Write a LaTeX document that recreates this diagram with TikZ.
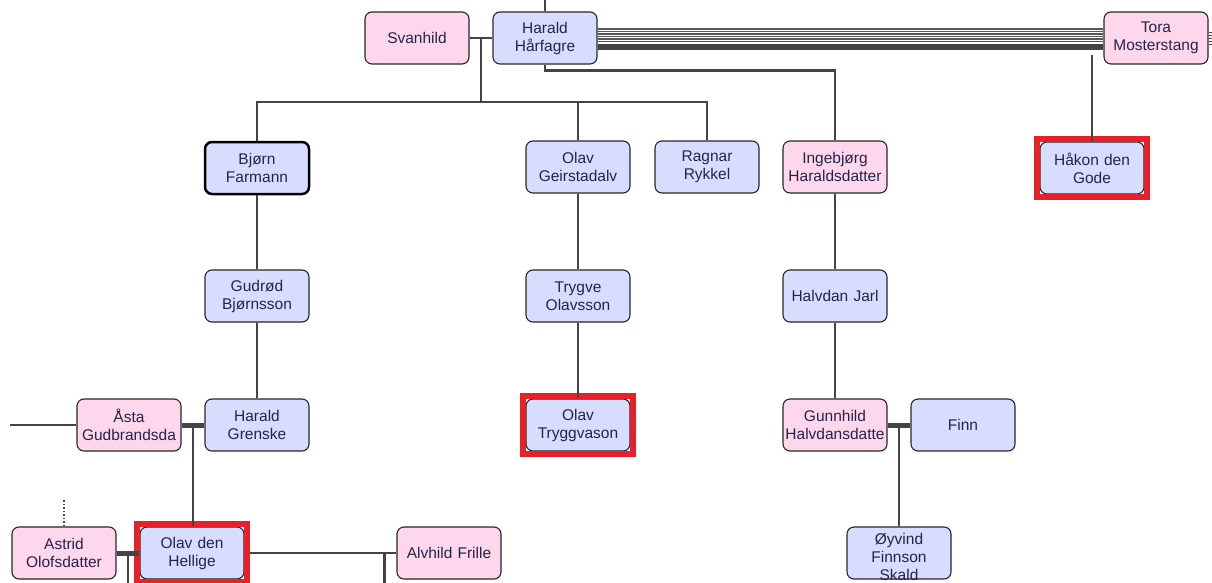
\documentclass[tikz,border=0pt]{standalone}
\usepackage{fontspec}
\setmainfont{Liberation Sans}
\usepackage{xcolor}
\usetikzlibrary{calc,fit}
\definecolor{manblue}{HTML}{D7DDFF}
\definecolor{womanpink}{HTML}{FFD7EC}
\definecolor{markred}{HTML}{E8202A}
\definecolor{linegray}{HTML}{444444}
\definecolor{nametext}{HTML}{24244A}

\begin{document}
\begin{tikzpicture}[x=1pt,y=-1pt,
   person/.style={draw=black!85,line width=1.1pt,rounded corners=7pt,minimum width=104pt,minimum height=52pt,
      text width=100pt,inner sep=1pt,align=center,text=nametext,font=\fontsize{15.5}{18}\selectfont},
   man/.style={person,fill=manblue},
   woman/.style={person,fill=womanpink},
   marked/.style={draw=markred,line width=6pt,inner sep=2.5pt},
   link/.style={draw=linegray,line width=2.3pt},
   wed/.style={draw=linegray,line width=5pt}]
   \useasboundingbox (0,0) rectangle (1212,583);
   % generation 1
   \node[woman] (svanhild) at (417,38) {Svanhild};
   \node[man] (haraldh) at (545,38) {Harald\\Hårfagre};
   \node[woman] (tora) at (1156,38) {Tora\\Mosterstang};
   % generation 2
   \node[man,line width=2.5pt,draw=black] (bjorn) at (257,168) {Bjørn\\Farmann};
   \node[man] (olavg) at (578,167) {Olav\\Geirstadalv};
   \node[man] (ragnar) at (707,167) {Ragnar\\Rykkel};
   \node[woman] (ingebjorg) at (835,167) {Ingebjørg\\Haraldsdatter};
   \node[man] (hakon) at (1092,168) {Håkon den\\Gode};
   % generation 3
   \node[man] (gudrod) at (257,296) {Gudrød\\Bjørnsson};
   \node[man] (trygve) at (578,296) {Trygve\\Olavsson};
   \node[man] (halvdan) at (835,296) {Halvdan Jarl};
   % generation 4
   \node[woman] (asta) at (129,425) {Åsta\\Gudbrandsda};
   \node[man] (haraldg) at (257,425) {Harald\\Grenske};
   \node[man] (olavt) at (578,425) {Olav\\Tryggvason};
   \node[woman] (gunnhild) at (835,425) {Gunnhild\\Halvdansdatte};
   \node[man] (finn) at (963,425) {Finn};
   % generation 5
   \node[woman] (astrid) at (64,553) {Astrid\\Olofsdatter};
   \node[man] (olavh) at (192,553) {Olav den\\Hellige};
   \node[woman] (alvhild) at (449,553) {Alvhild Frille};
   \node[man,text height=16pt,text depth=34pt] (oyvind) at (899,553) {Øyvind\\Finnson\\Skald};
   % kings
   \node[marked,fit=(hakon)] (hakonmark) {};
   \node[marked,fit=(olavt)] (olavtmark) {};
   \node[marked,fit=(olavh)] (olavhmark) {};

   % Harald and his wives
   \coordinate (up) at (545,0);
   \draw[link] (haraldh.north) -- (up);
   \draw[link] (svanhild) -- (haraldh);
   \foreach \dy in {9,6.5,4,1.5,-1,-3.5}
      \draw[draw=linegray!90,line width=1.1pt] ([yshift=\dy pt]haraldh.east) -- ([yshift=\dy pt]tora.west);
   \draw[draw=linegray,line width=6pt] ([yshift=-9pt]haraldh.east) -- ([yshift=-9pt]tora.west);
   \coordinate (offr) at (1212,38);
   \foreach \dy in {5,2,-1,-4,-7}
      \draw[draw=linegray,line width=1pt] ([yshift=\dy pt]tora.east) -- ([yshift=\dy pt]offr);
   \draw[link] (hakon.north) -- ++(0,-86);
   \coordinate (svk) at ($(svanhild.east)!.5!(haraldh.west)$);
   \coordinate (bus) at ($(svk)+(0,64)$);
   \draw[link] (svk) -- (bus);
   \draw[link] (bjorn.north) -- (bjorn.north |- bus) -- (ragnar.north |- bus) -- (ragnar.north);
   \draw[link] (olavg.north) -- (olavg.north |- bus);
   \draw[link] (haraldh.south) -- ++(0,6) -| (ingebjorg.north);
   % lines of descent
   \draw[link] (bjorn) -- (gudrod) -- (haraldg);
   \draw[link] (olavg) -- (trygve) -- (olavt);
   \draw[link] (ingebjorg) -- (halvdan) -- (gunnhild);
   % Harald Grenske and Åsta
   \coordinate (offl) at (10,425);
   \draw[link] (asta) -- (offl);
   \draw[wed] (asta) -- (haraldg);
   \coordinate (ahk) at ($(asta.east)!.5!(haraldg.west)$);
   \draw[link] (ahk) -- (ahk |- olavh.north);
   % Gunnhild and Finn
   \draw[wed] (gunnhild) -- (finn);
   \coordinate (gfk) at ($(gunnhild.east)!.5!(finn.west)$);
   \draw[link] (gfk) -- (gfk |- oyvind.north);
   % Olav den Hellige
   \draw[wed] (astrid) -- (olavh);
   \coordinate (aok) at ($(astrid.east)!.5!(olavh.west)$);
   \draw[link] (aok) -- ++(0,32);
   \draw[link] (olavhmark) -- (alvhild);
   \draw[link] ([xshift=-12pt]alvhild.west) -- ++(0,32);
   \draw[draw=linegray,line width=1.5pt,dotted] (astrid.north) -- ++(0,-27);
\end{tikzpicture}
\end{document}
